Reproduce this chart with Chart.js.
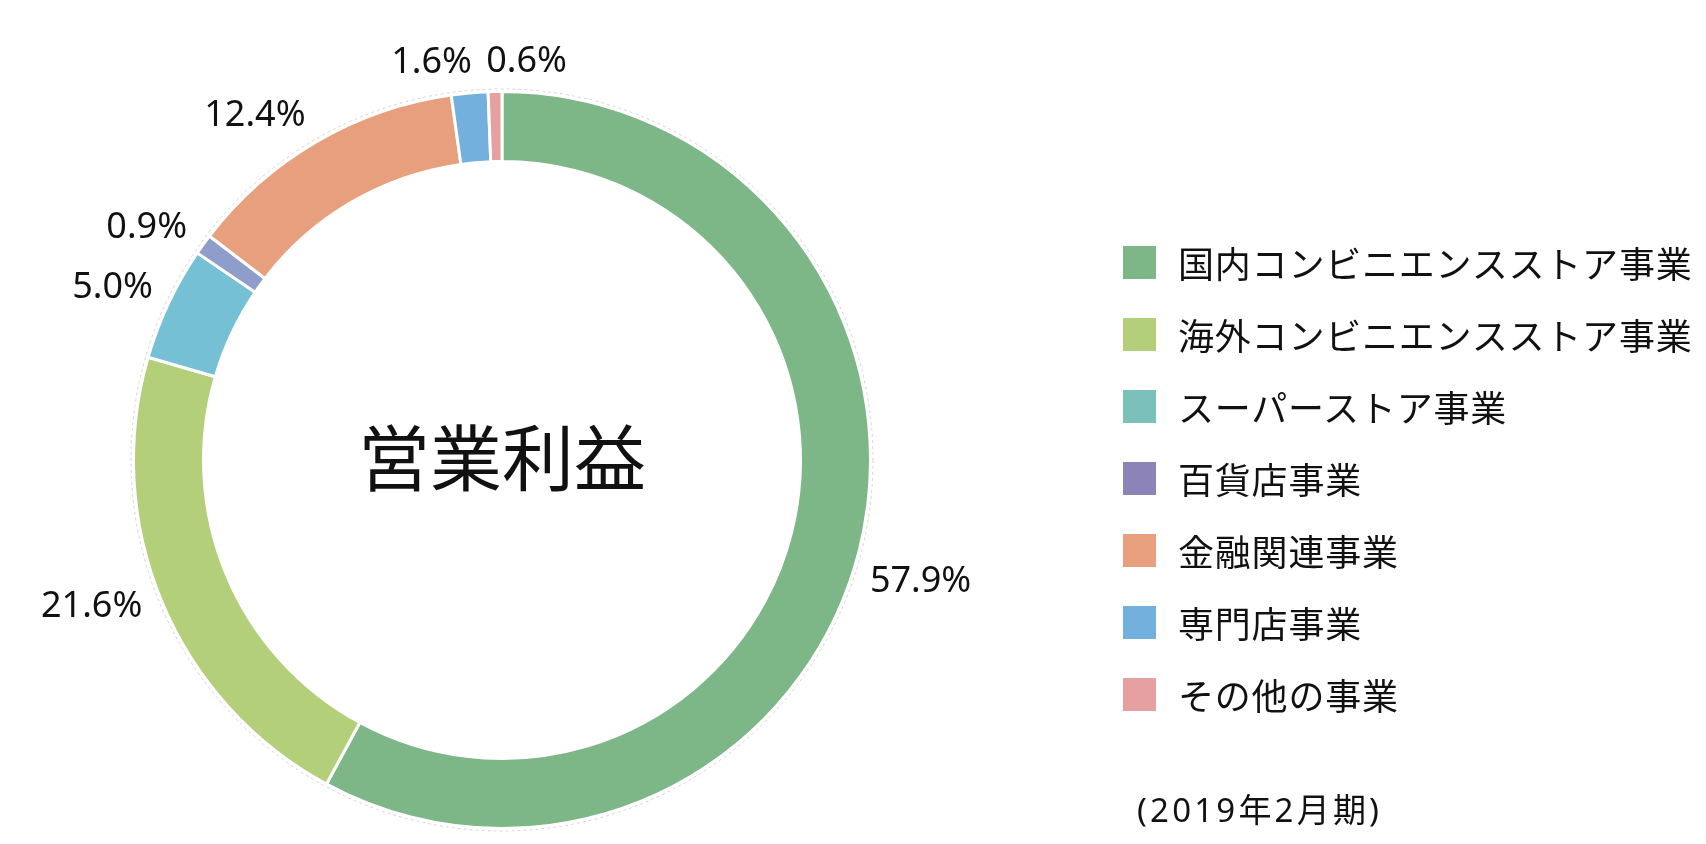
<!DOCTYPE html>
<html lang="ja">
<head>
<meta charset="utf-8">
<script src="https://cdn.jsdelivr.net/npm/chart.js@4.4.0/dist/chart.umd.min.js"></script>
<style>
  html, body { margin: 0; padding: 0; background: #fff; }
  #wrap { position: relative; width: 1706px; height: 844px; }
  #myChart { position: absolute; left: 0; top: 0; }
  #legend { position: absolute; left: 1123px; top: 226px; font-family: "Noto Sans CJK JP", sans-serif; }
  .legend-row { height: 72px; display: flex; align-items: center; font-size: 36px; color: #111; letter-spacing: 0.8px; }
  .legend-box { width: 33px; height: 33px; margin-right: 22px; flex: none; }
  #note { position: absolute; left: 1137px; top: 784px; font-family: "Noto Sans", "Noto Sans CJK JP", sans-serif; font-size: 33px; color: #111; letter-spacing: 3.2px; }
</style>
</head>
<body>
<div id="wrap">
  <canvas id="myChart" width="1706" height="844"></canvas>
  <div id="legend"></div>
  <div id="note">(2019年2月期)</div>
</div>
<script>
const labels = [
    '国内コンビニエンスストア事業',
    '海外コンビニエンスストア事業',
    'スーパーストア事業',
    '百貨店事業',
    '金融関連事業',
    '専門店事業',
    'その他の事業'
];
const shares = [57.9, 21.6, 5.0, 0.9, 12.4, 1.6, 0.6];
const sliceColors = ['#7db687', '#b3cf7a', '#75c0d4', '#8f9dca', '#e89f7e', '#74b0dd', '#e7a0a1'];
const legendColors = ['#7db687', '#b3cf7a', '#7bc0bb', '#8c84b8', '#e89f7e', '#74b0dd', '#e7a0a1'];
const centerTitle = '営業利益';

// small angle nudges (degrees) so the labels sit like in the original
const labelNudge = [2, 3, -1.3, -2.6, -5.4, -5, 4.6];

const labelPlugin = {
    id: 'labelPlugin',
    afterDraw(chart) {
        const ctx = chart.ctx;
        const meta = chart.getDatasetMeta(0);
        const arc0 = meta.data[0];
        const cx = arc0.x, cy = arc0.y, R = arc0.outerRadius;

        // thin dashed outline round the ring
        ctx.save();
        ctx.strokeStyle = '#d4d4d4';
        ctx.lineWidth = 1;
        ctx.setLineDash([3, 3]);
        ctx.beginPath();
        ctx.arc(cx, cy, R + 2.5, 0, Math.PI * 2);
        ctx.stroke();
        ctx.restore();

        ctx.save();
        ctx.fillStyle = '#111';
        ctx.textAlign = 'center';
        ctx.textBaseline = 'middle';
        ctx.font = '72px "Noto Sans CJK JP"';
        ctx.fillText(centerTitle, cx, cy - 2);

        ctx.font = '36px "Noto Sans"';
        meta.data.forEach(function(arc, i) {
            const txt = shares[i].toFixed(1) + '%';
            const w = ctx.measureText(txt).width;
            const h = 27;
            const a = (arc.startAngle + arc.endAngle) / 2 + labelNudge[i] * Math.PI / 180;
            const d = R + 15 + Math.abs(Math.cos(a)) * w / 2 + Math.abs(Math.sin(a)) * h / 2;
            ctx.fillText(txt, cx + Math.cos(a) * d, cy + Math.sin(a) * d);
        });
        ctx.restore();
    }
};

const ctx = document.getElementById('myChart').getContext('2d');
const myChart = new Chart(ctx, {
    type: 'doughnut',
    data: {
        labels: labels,
        datasets: [{
            data: shares,
            backgroundColor: sliceColors,
            borderColor: '#ffffff',
            borderWidth: 3
        }]
    },
    options: {
        responsive: false,
        animation: false,
        cutout: '81%',
        layout: {
            padding: {left: 132, right: 834, top: 90, bottom: 14}
        },
        plugins: {
            legend: {display: false},
            tooltip: {enabled: false}
        }
    },
    plugins: [labelPlugin]
});

var legendEl = document.getElementById('legend');
var content = '';
for (let i = 0; i < labels.length; i++) {
    content += `<div class="legend-row"><div class="legend-box" style="background:${legendColors[i]}"></div>${labels[i]}</div>`;
}
legendEl.innerHTML = content;
</script>
</body>
</html>
